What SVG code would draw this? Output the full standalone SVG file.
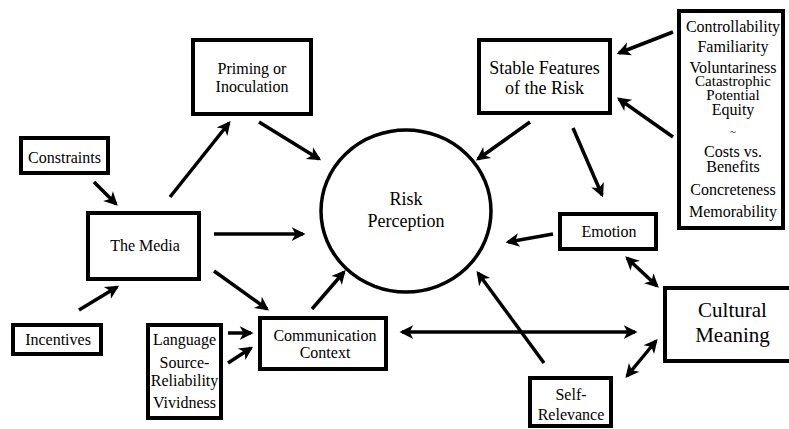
<svg xmlns="http://www.w3.org/2000/svg" width="789" height="429" viewBox="0 0 789 429" font-family="Liberation Serif, Times New Roman, serif">
<defs>
<style>
.box{fill:#fff;stroke:#000;stroke-width:4}
text{font-size:16px;fill:#000;text-anchor:middle}
.big{font-size:18px}
.huge{font-size:21px}
.a{stroke:#000;stroke-width:3.5;fill:none;marker-end:url(#ah)}
.d{stroke:#000;stroke-width:3.5;fill:none;marker-end:url(#ah);marker-start:url(#ah)}
</style>
<marker id="ah" markerUnits="userSpaceOnUse" markerWidth="20" markerHeight="20" viewBox="-12 -8 16 16" refX="0" refY="0" orient="auto-start-reverse">
<path d="M2,0 L-9,-5.5 L-6,0 L-9,5.5 Z" fill="#000"/>
</marker>
</defs>
<rect width="789" height="429" fill="#fff"/>
<g id="connectors">
<line class="a" x1="94" y1="182" x2="116" y2="204"/>
<line class="a" x1="170" y1="197" x2="229" y2="123"/>
<line class="a" x1="259" y1="122" x2="319" y2="159"/>
<line class="a" x1="214" y1="234" x2="303" y2="234"/>
<line class="a" x1="214" y1="271" x2="267" y2="309"/>
<line class="a" x1="79" y1="310" x2="117" y2="287"/>
<line class="a" x1="228" y1="333" x2="251" y2="333"/>
<line class="a" x1="228" y1="363" x2="251" y2="348"/>
<line class="a" x1="312" y1="309" x2="344" y2="272"/>
<line class="a" x1="673" y1="32" x2="619" y2="53"/>
<line class="a" x1="673" y1="137" x2="619" y2="99"/>
<line class="a" x1="530" y1="122" x2="478" y2="159"/>
<line class="a" x1="573" y1="128" x2="602" y2="195"/>
<line class="a" x1="553" y1="234" x2="508" y2="242"/>
<line class="d" x1="627" y1="258" x2="657" y2="286"/>
<line class="d" x1="402" y1="332" x2="635" y2="332"/>
<line class="a" x1="544" y1="363" x2="478" y2="273"/>
<line class="d" x1="656" y1="341" x2="627" y2="376"/>
</g>
<g id="risk-perception">
<ellipse cx="406" cy="211" rx="85" ry="81" fill="#fff" stroke="#000" stroke-width="3.5"/>
<text class="big" x="406" y="205">Risk</text>
<text class="big" x="406" y="227">Perception</text>
</g>
<g id="priming">
<rect class="box" x="193" y="40" width="118" height="74"/>
<text x="252" y="74">Priming or</text>
<text x="252" y="92">Inoculation</text>
</g>
<g id="constraints">
<rect class="box" x="21" y="138" width="87" height="35"/>
<text x="64.5" y="163">Constraints</text>
</g>
<g id="stable-features">
<rect class="box" x="479" y="40" width="131" height="73"/>
<text class="big" x="544.5" y="74">Stable Features</text>
<text class="big" x="544.5" y="94">of the Risk</text>
</g>
<g id="features-list">
<rect class="box" x="679" y="11" width="104" height="217"/>
<text x="733" y="32">Controllability</text>
<text x="733" y="52">Familiarity</text>
<text x="733" y="73">Voluntariness</text>
<text x="733" y="86" style="font-size:15px">Catastrophic</text>
<text x="733" y="100" style="font-size:15px">Potential</text>
<text x="733" y="115">Equity</text>
<text x="733" y="135" style="font-size:11px">~</text>
<text x="733" y="157">Costs vs.</text>
<text x="733" y="172">Benefits</text>
<text x="733" y="195">Concreteness</text>
<text x="733" y="217">Memorability</text>
</g>
<g id="the-media">
<rect class="box" x="88" y="213" width="111" height="66"/>
<text x="145" y="251">The Media</text>
</g>
<g id="incentives">
<rect class="box" x="13" y="325" width="88" height="29"/>
<text x="58" y="345">Incentives</text>
</g>
<g id="language">
<rect class="box" x="148" y="325" width="73" height="93"/>
<text x="184.5" y="345">Language</text>
<text x="184.5" y="368">Source-</text>
<text x="184.5" y="386">Reliability</text>
<text x="184.5" y="408">Vividness</text>
</g>
<g id="communication-context">
<rect class="box" x="260" y="318" width="126" height="51"/>
<text x="325" y="341">Communication</text>
<text x="325" y="358">Context</text>
</g>
<g id="emotion">
<rect class="box" x="560" y="214" width="96" height="35"/>
<text x="609" y="237">Emotion</text>
</g>
<g id="cultural-meaning">
<rect class="box" x="665" y="288" width="130" height="73"/>
<text class="huge" x="732.5" y="317">Cultural</text>
<text class="huge" x="732.5" y="342">Meaning</text>
</g>
<g id="self-relevance">
<rect class="box" x="530" y="378" width="81" height="48"/>
<text x="571" y="400">Self-</text>
<text x="571" y="420">Relevance</text>
</g>
</svg>
